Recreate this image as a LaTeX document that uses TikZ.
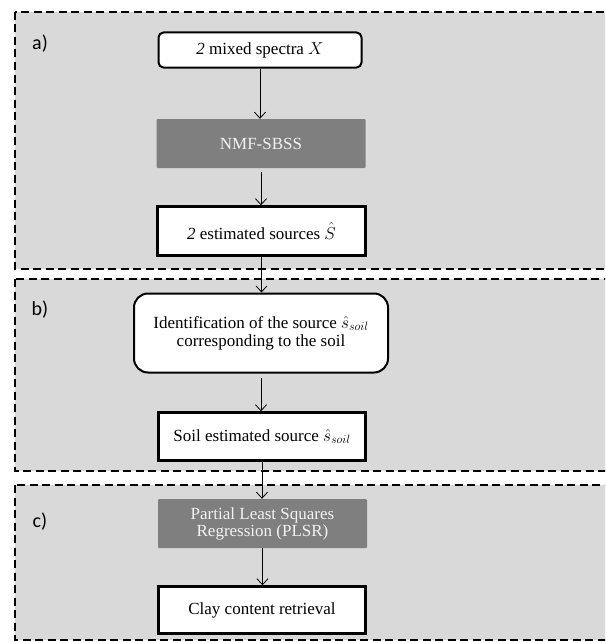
\documentclass[tikz,border=0pt]{standalone}
\usepackage{fontspec}
\setmainfont{Liberation Serif}
\newfontfamily\labelfont{Carlito}
\usetikzlibrary{arrows.meta}
\definecolor{panelgray}{HTML}{D9D9D9}
\definecolor{boxgray}{HTML}{7F7F7F}
\definecolor{lighttext}{HTML}{F2F2F2}
\tikzset{
  panel/.style={fill=panelgray, draw=black, line width=2.6pt, dash pattern=on 8pt off 4.5pt},
  whitebox/.style={draw=black, fill=white, line width=2pt, align=center, font=\fontsize{17}{19}\selectfont, inner sep=0pt},
  graybox/.style={draw=none, fill=boxgray, text=lighttext, align=center, font=\fontsize{17}{19}\selectfont, inner sep=0pt, rounded corners=1pt},
  panellabel/.style={font=\labelfont\fontsize{20}{22}\selectfont, inner sep=0pt},
  flow/.style={draw=black, line width=0.8pt, -{Straight Barb[length=6pt,width=11pt,line width=0.8pt]}}
}
\begin{document}
\begin{tikzpicture}[x=1pt,y=-1pt]
\useasboundingbox (0,0) rectangle (605,642);
\clip (0,0) rectangle (605,642);
% panels
\path[panel] (15,12) rectangle (615,269);
\path[panel] (15,279) rectangle (615,471);
\path[panel] (15,485) rectangle (615,640);
\node[panellabel] (la) at (40,44) {a)};
\node[panellabel] (lb) at (40,310) {b)};
\node[panellabel] (lc) at (40,522) {c)};
% nodes
\node[whitebox, rounded corners=5pt, minimum width=203pt, minimum height=35pt] (mix) at (260,50) {\textit{2} mixed spectra $X$};
\node[graybox, minimum width=209pt, minimum height=49pt] (nmf) at (261,143.5) {NMF-SBSS};
\node[whitebox, line width=2.4pt, minimum width=208pt, minimum height=49pt] (est) at (261.5,231) {\textit{2} estimated sources $\hat{S}$};
\node[whitebox, rounded corners=14pt, minimum width=254pt, minimum height=79pt] (ident) at (261,333) {Identification of the source $\hat{s}_{soil}$\\[-1pt]corresponding to the soil};
\node[whitebox, line width=2.4pt, minimum width=207pt, minimum height=48pt] (soil) at (262,436.5) {Soil estimated source $\hat{s}_{soil}$};
\node[graybox, minimum width=209pt, minimum height=49pt] (plsr) at (262.5,523.5) {Partial Least Squares\\[-2pt]Regression (PLSR)};
\node[whitebox, line width=2.4pt, minimum width=207pt, minimum height=47pt] (clay) at (262,610) {Clay content retrieval};
% connectors
\draw[flow] (mix.south) -- (mix.south |- nmf.north);
\draw[flow] ([yshift=-4pt]nmf.south) -- (nmf.south |- est.north);
\draw[flow] (est.south) -- (est.south |- ident.north);
\draw[flow] ([yshift=-4pt]ident.south) -- (ident.south |- soil.north);
\draw[flow] (soil.south) -- (soil.south |- plsr.north);
\draw[flow] (plsr.south) -- (plsr.south |- clay.north);
\end{tikzpicture}
\end{document}
